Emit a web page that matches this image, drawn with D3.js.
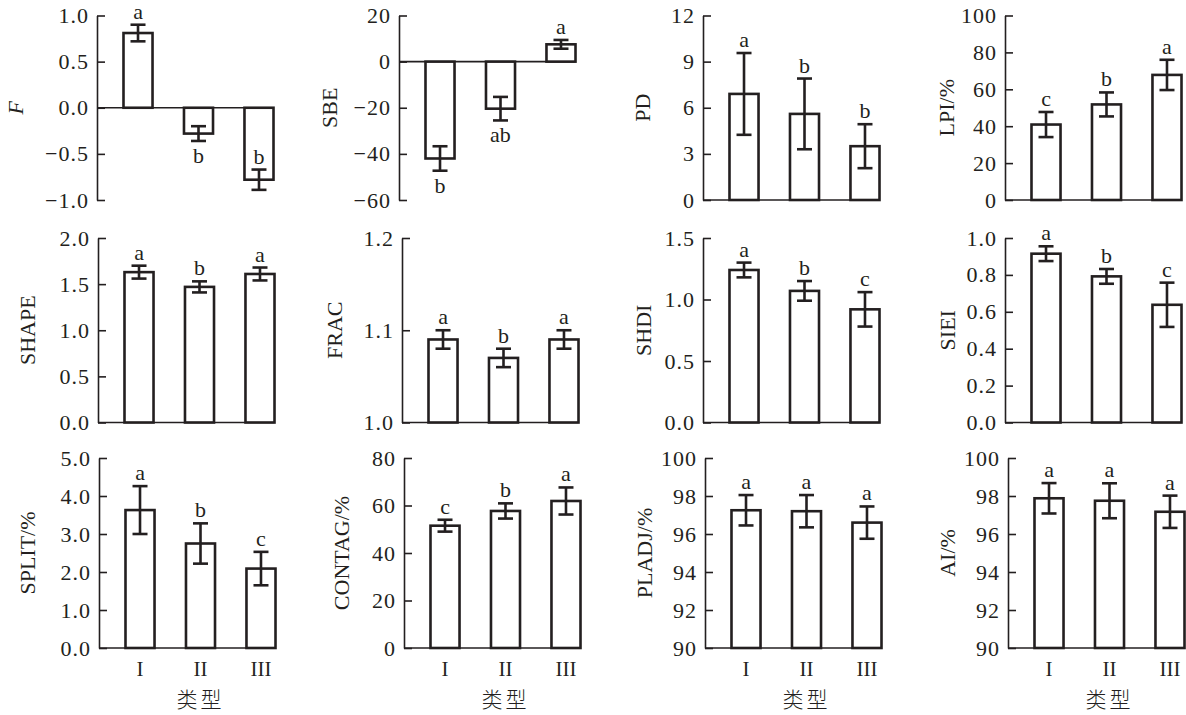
<!DOCTYPE html>
<html>
<head>
<meta charset="utf-8">
<script src="https://cdn.jsdelivr.net/npm/d3@7"></script>
<style>
  body { margin: 0; background: #fff; }
  svg text { font-family: "Liberation Serif", "Times New Roman", serif; fill: #231f20; }
</style>
</head>
<body>
<div id="chart"></div>
<script>
// categories and per-panel values
const categories = ["I", "II", "III"];
const metricNames = ["F", "SBE", "PD", "LPI/%", "SHAPE", "FRAC", "SHDI", "SIEI", "SPLIT/%", "CONTAG/%", "PLADJ/%", "AI/%"];
const meanValues = [
  [0.81, -0.28, -0.78],
  [-42, -20.4, 7.5],
  [6.9, 5.6, 3.5],
  [40.9, 51.8, 67.8],
  [1.63, 1.47, 1.61],
  [1.09, 1.07, 1.09],
  [1.24, 1.07, 0.92],
  [0.915, 0.792, 0.638],
  [3.63, 2.75, 2.09],
  [51.5, 57.7, 61.9],
  [97.25, 97.2, 96.6],
  [97.88, 97.75, 97.17]
];
const errValues = [
  [0.09, 0.08, 0.11],
  [5.3, 5.1, 1.9],
  [2.66, 2.3, 1.43],
  [6.8, 6.5, 8.2],
  [0.07, 0.06, 0.07],
  [0.01, 0.01, 0.01],
  [0.06, 0.08, 0.14],
  [0.04, 0.04, 0.12],
  [0.63, 0.53, 0.44],
  [2.5, 3.2, 5.7],
  [0.8, 0.85, 0.85],
  [0.8, 0.92, 0.85]
];
const sigLetters = [
  ["a", "b", "b"], ["b", "ab", "a"], ["a", "b", "b"], ["c", "b", "a"],
  ["a", "b", "a"], ["a", "b", "a"], ["a", "b", "c"], ["a", "b", "c"],
  ["a", "b", "c"], ["c", "b", "a"], ["a", "a", "a"], ["a", "a", "a"]
];
// letters of negative bars that sit inside the bar, above the error bar
const sigInsideBar = [[0, 2]];
const yTickValues = [
  [-1, -0.5, 0, 0.5, 1],
  [-60, -40, -20, 0, 20],
  [0, 3, 6, 9, 12],
  [0, 20, 40, 60, 80, 100],
  [0, 0.5, 1, 1.5, 2],
  [1, 1.1, 1.2],
  [0, 0.5, 1, 1.5],
  [0, 0.2, 0.4, 0.6, 0.8, 1],
  [0, 1, 2, 3, 4, 5],
  [0, 20, 40, 60, 80],
  [90, 92, 94, 96, 98, 100],
  [90, 92, 94, 96, 98, 100]
];
const tickFormats = [".1f", "d", "d", "d", ".1f", ".1f", ".1f", ".1f", ".1f", "d", "d", "d"];
const xTitle = "类型";

// layout
const width = 1186, height = 715;
const colX = [[97, 399, 703, 1005], [98, 402, 703, 1005], [99, 404, 705, 1008]];
const rowY = [[15.5, 200], [238, 422.5], [458, 648]];
const labelOffset = [[82, 70, 61, 59], [71, 68, 60, 58], [72, 63, 61, 61]];
const ink = "#231f20";

const svg = d3.select("#chart").append("svg")
    .attr("width", width)
    .attr("height", height);

metricNames.forEach((name, i) => {
    const r = Math.floor(i / 4), c = i % 4;
    const ax = colX[r][c];
    const [top, bottom] = rowY[r];
    const ticks = yTickValues[i];
    const domain = [ticks[0], ticks[ticks.length - 1]];

    const y = d3.scaleLinear().domain(domain).range([bottom, top]);
    const x = d3.scaleBand().domain(categories)
        .range([ax, ax + 203])
        .paddingInner(0.52)
        .paddingOuter(0.438);
    const bw = x.bandwidth();
    const right = x(categories[categories.length - 1]) + bw;
    const base = domain[0] < 0 ? 0 : domain[0];

    const g = svg.append("g");

    // y axis, ticks pointing inward
    const yAxis = d3.axisLeft(y)
        .tickValues(ticks)
        .tickFormat(d3.format(tickFormats[i]))
        .tickSizeInner(-8)
        .tickSizeOuter(0)
        .tickPadding(8);
    const ag = g.append("g").attr("transform", `translate(${ax},0)`).call(yAxis);
    ag.select(".domain").attr("stroke", ink).attr("stroke-width", 1.6);
    ag.selectAll(".tick line").attr("stroke", ink).attr("stroke-width", 1.6);
    ag.selectAll(".tick text")
        .attr("fill", ink)
        .style("font-size", "22px")
        .style("letter-spacing", "1px")
        .style("font-family", "'Liberation Serif', serif");

    // baseline
    g.append("line")
        .attr("x1", ax).attr("x2", right)
        .attr("y1", y(base)).attr("y2", y(base))
        .attr("stroke", ink).attr("stroke-width", 1.6);

    const rows = categories.map((k, j) => ({
        k, v: meanValues[i][j], e: errValues[i][j], s: sigLetters[i][j],
        up: meanValues[i][j] >= 0 || sigInsideBar.some(p => p[0] === i && p[1] === j)
    }));

    // bars
    g.selectAll("rect.bar").data(rows).enter().append("rect")
        .attr("class", "bar")
        .attr("x", d => x(d.k))
        .attr("width", bw)
        .attr("y", d => Math.min(y(d.v), y(base)))
        .attr("height", d => Math.abs(y(d.v) - y(base)))
        .attr("fill", "#fff")
        .attr("stroke", ink)
        .attr("stroke-width", 2.6);

    // error bars
    const eb = g.selectAll("g.err").data(rows).enter().append("g").attr("class", "err");
    const cx = d => x(d.k) + bw / 2;
    eb.append("line")
        .attr("x1", cx).attr("x2", cx)
        .attr("y1", d => y(d.v + d.e)).attr("y2", d => y(d.v - d.e));
    eb.append("line")
        .attr("x1", d => cx(d) - 7.5).attr("x2", d => cx(d) + 7.5)
        .attr("y1", d => y(d.v + d.e)).attr("y2", d => y(d.v + d.e));
    eb.append("line")
        .attr("x1", d => cx(d) - 7.5).attr("x2", d => cx(d) + 7.5)
        .attr("y1", d => y(d.v - d.e)).attr("y2", d => y(d.v - d.e));
    eb.selectAll("line").attr("stroke", ink).attr("stroke-width", 2.6);

    // significance letters
    g.selectAll("text.sig").data(rows).enter().append("text")
        .attr("class", "sig")
        .attr("x", cx)
        .attr("y", d => d.up ? y(d.v + d.e) - 6 : y(d.v - d.e) + 6)
        .attr("dy", d => d.up ? 0 : "0.72em")
        .attr("text-anchor", "middle")
        .style("font-size", "22px")
        .text(d => d.s);

    // y title
    const lx = ax - labelOffset[r][c], ly = (top + bottom) / 2;
    g.append("text")
        .attr("transform", `translate(${lx},${ly}) rotate(-90)`)
        .attr("text-anchor", "middle")
        .attr("dy", "0.35em")
        .style("font-size", "22px")
        .style("font-style", name === "F" ? "italic" : "normal")
        .text(name);

    // x tick labels and title only on the bottom row
    if (r === 2) {
        g.selectAll("text.xt").data(categories).enter().append("text")
            .attr("class", "xt")
            .attr("x", d => x(d) + bw / 2)
            .attr("y", bottom + 28)
            .attr("text-anchor", "middle")
            .style("font-size", "21px")
            .text(d => d);
        g.append("text")
            .attr("x", x(categories[1]) + bw / 2)
            .attr("y", bottom + 59)
            .attr("text-anchor", "middle")
            .style("font-size", "21px")
            .style("font-weight", "300")
            .style("font-family", "'Noto Sans CJK SC', sans-serif")
            .style("letter-spacing", "3px")
            .text(xTitle);
    }
});
</script>
</body>
</html>
